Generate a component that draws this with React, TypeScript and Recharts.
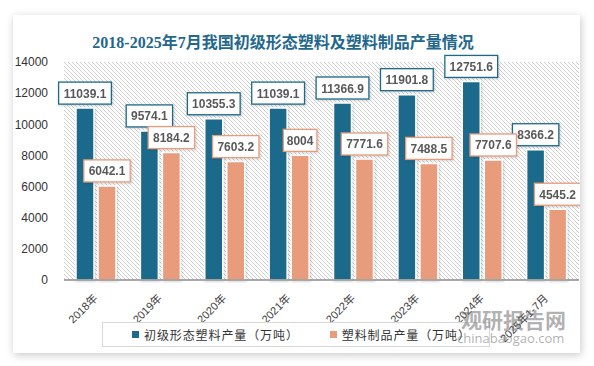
import React from 'react'
import { BarChart, Bar, XAxis, YAxis, CartesianGrid, Legend, LabelList } from 'recharts'

const years = ['2018年', '2019年', '2020年', '2021年', '2022年', '2023年', '2024年', '2025年1-7月']
const primaryPlastic = [11039.1, 9574.1, 10355.3, 11039.1, 11366.9, 11901.8, 12751.6, 8366.2]
const plasticProducts = [6042.1, 8184.2, 7603.2, 8004, 7771.6, 7488.5, 7707.6, 4545.2]
const yTicks = [0, 2000, 4000, 6000, 8000, 10000, 12000, 14000]

const seriesNames = ['初级形态塑料产量（万吨）', '塑料制品产量（万吨）']
const BLUE = '#1d6a8b'
const ORANGE = '#e89c7c'

const data = years.map((year, i) => ({
  year,
  primary: primaryPlastic[i],
  products: plasticProducts[i],
}))

const makeLabel = (color: string) => (props: any) => {
  const { x, y, width, value } = props
  const text = String(value)
  const w = text.length * 6.4 + 8
  const cx = x + width / 2
  return (
    <g filter="url(#soft)">
      <rect x={cx - w / 2} y={y - 26} width={w} height={22} fill="#fff" stroke={color} strokeWidth={1.3} />
      <text
        x={cx}
        y={y - 10.5}
        textAnchor="middle"
        fontSize={12}
        fontWeight="bold"
        fill="#595959"
        fontFamily='"Liberation Sans", Arial, sans-serif'
      >
        {text}
      </text>
    </g>
  )
}

const XTick = (props: any) => {
  const { x, y, payload } = props
  const tx = x + 2
  const ty = y + 11
  return (
    <text
      x={tx}
      y={ty}
      textAnchor="end"
      transform={`rotate(-45 ${tx} ${ty})`}
      fontSize={11}
      fill="#404040"
      fontFamily='"Liberation Sans", "Noto Sans CJK SC", sans-serif'
    >
      {payload.value}
    </text>
  )
}

const LegendBox = () => (
  <div
    style={{
      boxSizing: 'border-box',
      height: 25,
      border: '1px solid #d9d9d9',
      background: '#fff',
      display: 'flex',
      alignItems: 'center',
      fontFamily: '"Noto Sans CJK SC", sans-serif',
      fontSize: 12,
      letterSpacing: 0.9,
      color: '#333',
    }}
  >
    <span style={{ width: 7, height: 7, background: BLUE, marginLeft: 29, marginRight: 5 }} />
    <span>{seriesNames[0]}</span>
    <span style={{ width: 7, height: 7, background: ORANGE, marginLeft: 31, marginRight: 5 }} />
    <span>{seriesNames[1]}</span>
  </div>
)

export default function App() {
  return (
    <div style={{ position: 'absolute', left: 0, top: 0, width: 594, height: 366, background: '#fff' }}>
      <div
        style={{
          position: 'absolute',
          left: 13,
          top: 15,
          width: 567,
          height: 338,
          background: '#fff',
          boxShadow: '1px 2px 8px rgba(0,0,0,0.22)',
        }}
      >
        <div
          style={{
            position: 'absolute',
            left: 0,
            top: 14,
            width: 540,
            textAlign: 'center',
            fontFamily: '"Liberation Serif", "Noto Sans CJK SC", serif',
            fontWeight: 'bold',
            fontSize: 16,
            color: '#23688c',
          }}
        >
          2018-2025年7月我国初级形态塑料及塑料制品产量情况
        </div>
        <BarChart
          width={567}
          height={338}
          data={data}
          margin={{ top: 47, right: 1, left: 0, bottom: 18 }}
          barSize={18}
          barGap={4}
          style={{ position: 'absolute', left: 0, top: 0 }}
        >
          <defs>
            <pattern id="hatch" width="4" height="4" patternUnits="userSpaceOnUse">
              <path d="M-1,-1 l2,2 M0,0 l4,4 M3,3 l2,2" stroke="#cccccc" strokeWidth={0.9} />
            </pattern>
            <filter id="soft" x="-20%" y="-20%" width="150%" height="150%">
              <feDropShadow dx="1" dy="1" stdDeviation="1" floodColor="#000" floodOpacity="0.18" />
            </filter>
          </defs>
          <CartesianGrid horizontal={false} vertical={false} fill="url(#hatch)" />
          <XAxis
            dataKey="year"
            interval={0}
            tickLine={false}
            axisLine={{ stroke: '#8c8c8c', strokeWidth: 1.5 }}
            tick={<XTick />}
            height={30}
          />
          <YAxis
            domain={[0, 14000]}
            ticks={yTicks}
            width={51}
            axisLine={false}
            tickLine={false}
            tickMargin={10}
            tick={{ fontSize: 12, fill: '#333', fontFamily: '"Liberation Sans", Arial, sans-serif' }}
          />
          <Legend
            verticalAlign="bottom"
            content={<LegendBox />}
            wrapperStyle={{ left: 89, bottom: 6, width: 388 }}
          />
          <Bar dataKey="primary" name={seriesNames[0]} fill={BLUE} stroke="#fff" strokeWidth={1.5} filter="url(#soft)" isAnimationActive={false}>
            <LabelList dataKey="primary" content={makeLabel(BLUE)} />
          </Bar>
          <Bar dataKey="products" name={seriesNames[1]} fill={ORANGE} stroke="#fff" strokeWidth={1.5} filter="url(#soft)" isAnimationActive={false}>
            <LabelList dataKey="products" content={makeLabel(ORANGE)} />
          </Bar>
        </BarChart>
        <div
          style={{
            position: 'absolute',
            left: 448,
            top: 294,
            fontFamily: '"Noto Sans CJK SC", sans-serif',
            fontWeight: 'bold',
            fontSize: 21,
            color: 'rgba(110,110,110,0.55)',
            lineHeight: 1,
            pointerEvents: 'none',
          }}
        >
          观研报告网
        </div>
        <div
          style={{
            position: 'absolute',
            left: 444,
            top: 317,
            fontFamily: '"Open Sans", sans-serif',
            fontSize: 13,
            color: 'rgba(110,110,110,0.55)',
            lineHeight: 1,
            pointerEvents: 'none',
          }}
        >
          chinabaogao.com
        </div>
      </div>
    </div>
  )
}
